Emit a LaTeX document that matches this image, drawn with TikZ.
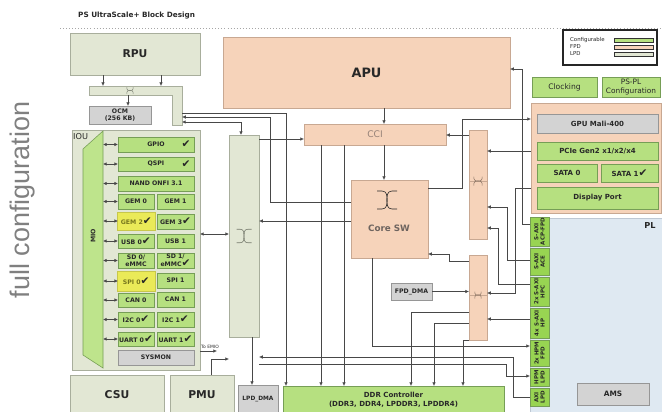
\documentclass[tikz,border=0pt]{standalone}
\usepackage{fontspec}
\setmainfont{DejaVu Sans}
\newfontfamily\symf{DejaVu Sans}
\newfontfamily\bigsans{Liberation Sans}
\usepackage{tikz}
\usetikzlibrary{arrows.meta}

\definecolor{lpdfill}{RGB}{226,231,212}
\definecolor{lpdline}{RGB}{168,174,156}
\definecolor{fpdfill}{RGB}{246,211,186}
\definecolor{fpdline}{RGB}{200,168,146}
\definecolor{cfgfill}{RGB}{182,224,128}
\definecolor{cfgline}{RGB}{118,158,86}
\definecolor{miofill}{RGB}{190,228,140}
\definecolor{portfill}{RGB}{152,212,82}
\definecolor{grayfill}{RGB}{211,211,211}
\definecolor{grayline}{RGB}{150,150,150}
\definecolor{plfill}{RGB}{223,233,242}
\definecolor{plline}{RGB}{190,200,212}
\definecolor{yelfill}{RGB}{234,234,88}
\definecolor{yeltxt}{RGB}{120,120,30}
\definecolor{txtdark}{RGB}{40,40,40}
\definecolor{linkc}{RGB}{72,72,72}
\definecolor{sidegray}{RGB}{128,128,128}
\definecolor{ccitxt}{RGB}{150,130,120}
\definecolor{coretxt}{RGB}{110,100,95}

\tikzset{
  blkbase/.style={draw, inner sep=0pt, outer sep=0pt, line width=0.5pt, align=center, text=txtdark},
  lpdbox/.style={blkbase, fill=lpdfill, draw=lpdline},
  fpdbox/.style={blkbase, fill=fpdfill, draw=fpdline},
  cfgbox/.style={blkbase, fill=cfgfill, draw=cfgline},
  graybox/.style={blkbase, fill=grayfill, draw=grayline},
  portbox/.style={blkbase, fill=portfill, draw=cfgline},
  yelbox/.style={blkbase, fill=yelfill, draw=yelfill!85!black, text=yeltxt},
  plbox/.style={blkbase, fill=plfill, draw=plline},
  celltxt/.style={font=\fontsize{5.3}{5.9}\selectfont\bfseries},
  bigtxt/.style={font=\fontsize{9.2}{10}\selectfont\bfseries},
  porttxt/.style={rotate=90, inner sep=0pt, align=center, text=txtdark, font=\fontsize{4.7}{5.2}\selectfont\bfseries},
  legtxt/.style={anchor=west, inner sep=0pt, text=txtdark, font=\fontsize{4.6}{5}\selectfont},
  link/.style={draw=linkc, line width=0.5pt, -{Latex[length=3.2pt,width=3pt]}},
  linkboth/.style={draw=linkc, line width=0.5pt, {Latex[length=3pt,width=2.8pt]}-{Latex[length=3pt,width=2.8pt]}},
}

% box from corner (x1,y1) to (x2,y2), in pixels of the picture
\newcommand{\blk}[7]{%
  \node[#2, minimum width={(#5-#3)*0.03cm}, minimum height={(#6-#4)*0.03cm}]
    (#1) at ({(#3+#5)/2},{(#4+#6)/2}) {#7};}
% crossbar sign
\newcommand{\xsym}[5]{%
  \begin{scope}[shift={(#1,#2)}, rotate=#4, scale=#3, draw=#5, line width=0.5pt]
    \draw (-10,-9) -- (-5,-9) .. controls (0,-9) and (0,-4) .. (0,0) .. controls (0,4) and (0,9) .. (-5,9) -- (-10,9);
    \draw (10,-9) -- (5,-9) .. controls (0,-9) and (0,-4) .. (0,0) .. controls (0,4) and (0,9) .. (5,9) -- (10,9);
  \end{scope}}
\newcommand{\ck}{{\symf\mdseries\fontsize{9}{7}\selectfont\color{txtdark}✔}}

\begin{document}
\begin{tikzpicture}[x=0.03cm, y=-0.03cm]
\useasboundingbox (0,0) rectangle (662,411);

\node[anchor=west, inner sep=0pt, font=\fontsize{6.2}{7}\selectfont\bfseries, text=txtdark] (title) at (78,16) {PS UltraScale+ Block Design};
\draw[gray!70, dotted, line width=0.6pt] (60,28) -- (662,28);
\node[rotate=90, inner sep=0pt, font=\bigsans\fontsize{23}{25}\selectfont, text=sidegray] (fullcfg) at (23,200) {full configuration};

% RPU, OCM
\blk{rpu}{lpdbox,bigtxt}{70}{33}{200}{75}{RPU}
\blk{rsw}{lpdbox,draw=none}{89}{86}{182}{95}{}
\blk{rswv}{lpdbox,draw=none}{172}{86}{182}{125}{}
\draw[lpdline, line width=0.5pt] (rsw.north west) -- (rswv.north east) -- (rswv.south east) -- (rswv.south west) -- (rswv.west |- rsw.south) -- (rsw.south west) -- cycle;
\xsym{130}{90.5}{0.35}{90}{lpdline!80!black}
\blk{ocm}{graybox,celltxt}{89}{106}{151}{124}{OCM\\(256 KB)}

% APU side
\blk{apu}{fpdbox,font=\fontsize{11}{12}\selectfont\bfseries}{223}{37}{510}{108}{APU}
\blk{cci}{fpdbox,font=\fontsize{7.8}{9}\selectfont,text=ccitxt}{304}{124}{446}{145}{CCI}
\blk{coresw}{fpdbox}{351}{180}{428}{258}{}
\xsym{387}{200}{1}{0}{txtdark}
\node[inner sep=0pt, font=\fontsize{7.5}{8}\selectfont\bfseries, text=coretxt] (corelbl) at (389,228) {Core SW};
\blk{usw}{fpdbox}{469}{130}{487}{239}{}
\draw[fpdline] (usw.west |- 0,181) -- (usw.east |- 0,181);
\xsym{478}{181}{0.45}{90}{fpdline!70!black}
\blk{dsw}{fpdbox}{469}{255}{487}{340}{}
\draw[fpdline] (dsw.west |- 0,295) -- (dsw.east |- 0,295);
\xsym{478}{295}{0.35}{90}{fpdline!70!black}
\blk{fpddma}{graybox,celltxt}{391}{283}{432}{300}{FPD\_DMA}

% legend, clocking, periphery
\blk{legend}{blkbase,fill=white,draw=black!85,line width=0.9pt}{563}{30}{657}{65}{}
\node[legtxt] (lgcfgt) at (570,40) {Configurable};
\node[legtxt] (lgfpdt) at (570,47) {FPD};
\node[legtxt] (lglpdt) at (570,53.5) {LPD};
\blk{lgcfg}{cfgbox,draw=black!80}{614}{38.5}{653}{42}{}
\blk{lgfpd}{fpdbox,draw=black!80}{614}{45}{653}{49}{}
\blk{lglpd}{lpdbox,draw=black!80}{614}{52}{653}{56}{}
\blk{clk}{cfgbox,font=\fontsize{6.5}{7.5}\selectfont}{532}{77}{597}{97}{Clocking}
\blk{pspl}{cfgbox,font=\fontsize{6.3}{7}\selectfont}{602}{77}{660}{97}{PS-PL\\Configuration}
\blk{fpdp}{fpdbox}{531}{103}{661}{213}{}
\blk{gpu}{graybox,celltxt,font=\fontsize{6}{7}\selectfont\bfseries}{537}{114}{658}{133}{GPU Mali-400}
\blk{pcie}{cfgbox,font=\fontsize{6}{7}\selectfont\bfseries}{537}{142}{658}{160}{PCIe Gen2 x1/x2/x4}
\blk{sata0}{cfgbox,font=\fontsize{6}{7}\selectfont\bfseries}{537}{164}{597}{182}{SATA 0}
\blk{sata1}{cfgbox,font=\fontsize{6}{7}\selectfont\bfseries}{601}{164}{658}{182}{SATA 1\ck}
\blk{dp}{cfgbox,font=\fontsize{6}{7}\selectfont\bfseries}{537}{187}{658}{209}{Display Port}

% PL
\blk{pl}{plbox}{530}{218}{663}{414}{}
\node[inner sep=0pt, font=\fontsize{7}{8}\selectfont\bfseries, text=txtdark] (pllbl) at (650,226) {PL};
\blk{acp}{portbox}{530}{217}{549}{246.5}{}
\blk{ace}{portbox}{530}{248}{549}{275}{}
\blk{hpc}{portbox}{530}{277}{549}{306.5}{}
\blk{hp}{portbox}{530}{308}{549}{338}{}
\blk{hpmf}{portbox}{530}{340}{549}{366.5}{}
\blk{hpml}{portbox}{530}{368}{549}{386.5}{}
\blk{axil}{portbox}{530}{388}{549}{406.5}{}
\node[porttxt] (acptxt) at (acp) {S-AXI\\ACP-FPD};
\node[porttxt] (acetxt) at (ace) {S-AXI\\ACE};
\node[porttxt] (hpctxt) at (hpc) {2x S-AXI\\HPC};
\node[porttxt] (hptxt) at (hp) {4x S-AXI\\HP};
\node[porttxt] (hpmftxt) at (hpmf) {2x HPM\\FPD};
\node[porttxt] (hpmltxt) at (hpml) {HPM\\LPD};
\node[porttxt] (axiltxt) at (axil) {AXI\\LPD};
\blk{ams}{graybox,font=\fontsize{6.3}{7}\selectfont\bfseries}{577}{383}{649}{405}{AMS}

% LPD side
\blk{lsw}{lpdbox}{229}{135}{259}{337}{}
\xsym{244}{236}{0.75}{0}{lpdline!70!black}
\blk{ddr}{cfgbox,font=\fontsize{6}{7.2}\selectfont\bfseries}{283}{386}{504}{414}{DDR Controller\\(DDR3, DDR4, LPDDR3, LPDDR4)}
\blk{lpddma}{graybox,font=\fontsize{5}{6}\selectfont\bfseries}{238}{385}{278}{414}{LPD\_DMA}
\blk{csu}{lpdbox,bigtxt}{70}{375}{164}{414}{CSU}
\blk{pmu}{lpdbox,bigtxt}{170}{375}{234}{414}{PMU}

% IOU
\blk{iou}{lpdbox}{72}{130}{200}{370}{}
\blk{mio}{blkbase,draw=none}{83}{131}{103}{368}{}
\draw[fill=miofill, draw=cfgline, line width=0.5pt] (83,149) -- (103,131) -- (103,368) -- (83,355) -- cycle;
\node[rotate=90, inner sep=0pt, celltxt, text=txtdark] (miotxt) at (93,236) {MIO};
\node[anchor=west, inner sep=0pt, font=\fontsize{7}{8}\selectfont, text=txtdark] (ioulbl) at (73,136.5) {IOU};
\blk{gpio}{cfgbox,celltxt}{118}{137}{194}{152}{GPIO}
\node[inner sep=0pt] (gpiock) at (186,144) {\ck};
\blk{qspi}{cfgbox,celltxt}{118}{157}{194}{171}{QSPI}
\node[inner sep=0pt] (qspick) at (186,164) {\ck};
\blk{nand}{cfgbox,celltxt}{118}{176}{194}{191}{NAND ONFI 3.1}
\blk{gem0}{cfgbox,celltxt}{118}{194}{154}{209}{GEM 0}
\blk{gem1}{cfgbox,celltxt}{157}{194}{194}{209}{GEM 1}
\blk{gem2}{yelbox,celltxt}{117}{212}{155.5}{230}{GEM 2\ck}
\blk{gem3}{cfgbox,celltxt}{157}{214}{194}{229}{GEM 3\ck}
\blk{usb0}{cfgbox,celltxt}{118}{234}{154}{248}{USB 0\ck}
\blk{usb1}{cfgbox,celltxt}{157}{234}{194}{248}{USB 1}
\blk{sd0}{cfgbox,celltxt}{118}{253}{154}{268}{SD 0/\\eMMC}
\blk{sd1}{cfgbox,celltxt}{157}{253}{194}{268}{SD 1/\\eMMC\ck}
\blk{spi0}{yelbox,celltxt}{117}{271}{155.5}{291}{SPI 0\ck}
\blk{spi1}{cfgbox,celltxt}{157}{273}{194}{288}{SPI 1}
\blk{can0}{cfgbox,celltxt}{118}{293}{154}{307}{CAN 0}
\blk{can1}{cfgbox,celltxt}{157}{292}{194}{307}{CAN 1}
\blk{i2c0}{cfgbox,celltxt}{118}{312}{154}{327}{I2C 0\ck}
\blk{i2c1}{cfgbox,celltxt}{157}{312}{194}{327}{I2C 1\ck}
\blk{uart0}{cfgbox,celltxt}{118}{332}{154}{346}{UART 0\ck}
\blk{uart1}{cfgbox,celltxt}{157}{332}{194}{346}{UART 1\ck}
\blk{sysmon}{graybox,celltxt}{118}{350}{194}{365}{SYSMON}
\foreach \p in {gpio,qspi,nand,gem0,gem2,usb0,sd0,spi0,can0,i2c0,uart0}
  \draw[linkboth] (mio.east |- \p.west) -- (118,0 |- \p.west);

% connections
\draw[link] (103,0 |- rpu.south) -- (103,0 |- rsw.north);
\draw[link] (161,0 |- rpu.south) -- (161,0 |- rsw.north);
\draw[link] (128,0 |- rsw.south) -- (128,0 |- ocm.north);
\draw[link] (rswv.east |- 0,113) -| (286,0 |- ddr.north);
\draw[link] (coresw.west |- 0,202) -| (270,117) -- (rswv.east |- 0,117);
\draw[linkboth] (rswv.east |- 0,122) -| (241,0 |- lsw.north);
\draw[link] (384,0 |- apu.south) -- (384,0 |- cci.north);
\draw[link] (384,0 |- cci.south) -- (384,0 |- coresw.north);
\draw[link] (lsw.east |- 0,139) -- (cci.west |- 0,139);
\draw[link] (321,0 |- cci.south) -- (321,0 |- ddr.north);
\draw[link] (344,0 |- cci.south) -- (344,0 |- ddr.north);
\draw[link] (coresw.west |- 0,221) -- (lsw.east |- 0,221);
\draw[link] (usw.west |- 0,135) -- (cci.east |- 0,135);
\draw[link] (coresw.east |- 0,188) -| (462,119) -- (fpdp.west |- 0,119);
\draw[link] (acp.west |- 0,224) -| (522,69) -- (apu.east |- 0,69);
\draw[link] (fpdp.west |- 0,151) -- (usw.east |- 0,151);
\draw[link] (ace.west |- 0,260) -| (507,207) -- (usw.east |- 0,207);
\draw[link] (hpc.west |- 0,284) -| (498,228) -- (usw.east |- 0,228);
\draw[link] (fpdp.west |- 0,188) -| (515,293) -- (dsw.east |- 0,293);
\draw[link] (hp.west |- 0,319) -- (dsw.east |- 0,319);
\draw[link] (fpddma.east) -- (dsw.west |- fpddma.east);
\draw[link] (dsw.west |- 0,261) -| (449,254) -- (coresw.east |- 0,254);
\draw[link] (dsw.west |- 0,312) -| (411,0 |- ddr.north);
\draw[link] (dsw.west |- 0,323) -| (434,0 |- ddr.north);
\draw[link] (dsw.south west) -| (463,0 |- ddr.north);
\draw[link] (372,0 |- coresw.south) |- (hpmf.west |- 0,346);
\draw[linkboth] (iou.east |- 0,234) -- (lsw.west |- 0,234);
\coordinate (emio) at (217,351);
\draw[link] (iou.east |- emio) -- (emio);
\node[inner sep=0pt, font=\fontsize{3.8}{4}\selectfont, text=txtdark] (emiolbl) at (210,346.5) {To EMIO};
\draw[link] (211,0 |- pmu.north) |- (lsw.west |- 0,359);
\draw[link] (252,0 |- lsw.south) -- (252,0 |- lpddma.north);
\draw[link] (lsw.east |- 0,364) -| (506,376) -- (hpml.west |- 0,376);
\draw[link] (axil.west |- 0,397) -| (513,357) -- (lsw.east |- 0,357);
\end{tikzpicture}
\end{document}
